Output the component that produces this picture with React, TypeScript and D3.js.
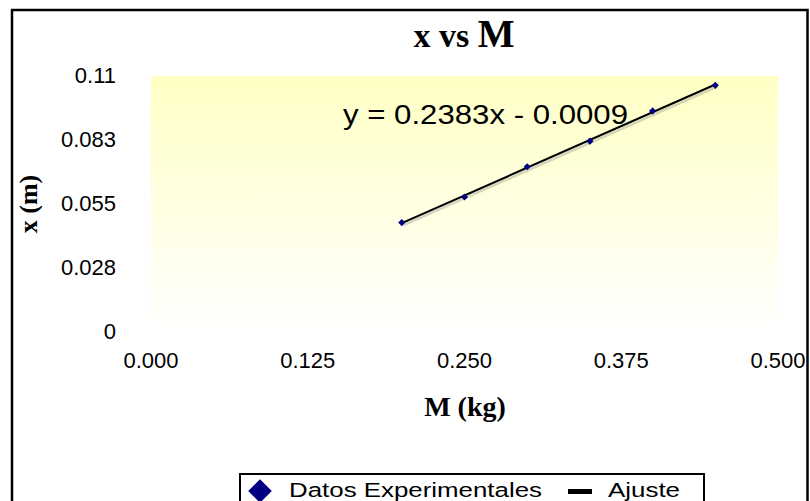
import React, { useEffect, useRef } from "react";
import * as d3 from "d3";

// datos medidos
const masses = [0.2, 0.25, 0.3, 0.35, 0.4, 0.45];
const stretch = [0.047, 0.058, 0.071, 0.082, 0.095, 0.106];

const xTicks = [0, 0.125, 0.25, 0.375, 0.5];
const xTickLabels = ["0.000", "0.125", "0.250", "0.375", "0.500"];
const yTicks = [0, 0.0275, 0.055, 0.0825, 0.11];
const yTickLabels = ["0", "0.028", "0.055", "0.083", "0.11"];

const slope = 0.2383;
const intercept = -0.0009;

const legendLabels = ["Datos Experimentales", "Ajuste"];

const sans = "'Liberation Sans', Arial, sans-serif";
const serif = "'Liberation Serif', 'Times New Roman', serif";

export default function App() {
	const ref = useRef<SVGSVGElement>(null);

	useEffect(() => {
		const svg = d3.select(ref.current);
		svg.selectAll("*").remove();

		const width = 810,
			height = 501;
		const plot = { left: 151, right: 778, top: 76, bottom: 332 };

		const x = d3.scaleLinear().domain([0, 0.5]).range([plot.left, plot.right]);
		const y = d3.scaleLinear().domain([0, 0.11]).range([plot.bottom, plot.top]);

		const defs = svg.append("defs");
		const grad = defs
			.append("linearGradient")
			.attr("id", "bg")
			.attr("x1", 0)
			.attr("y1", 0)
			.attr("x2", 0)
			.attr("y2", 1);
		grad.append("stop").attr("offset", "0%").attr("stop-color", "#FFFFC4");
		grad.append("stop").attr("offset", "100%").attr("stop-color", "#FFFFFF");

		svg.append("rect").attr("width", width).attr("height", height).attr("fill", "#fff");

		// marco exterior
		svg.append("rect")
			.attr("x", 12)
			.attr("y", 10)
			.attr("width", 795.5)
			.attr("height", 600)
			.attr("fill", "none")
			.attr("stroke", "#000")
			.attr("stroke-width", 2.5);

		// area de trazado
		svg.append("rect")
			.attr("x", plot.left)
			.attr("y", plot.top)
			.attr("width", plot.right - plot.left)
			.attr("height", plot.bottom - plot.top)
			.attr("fill", "url(#bg)");

		// titulo
		const title = svg.append("text")
			.attr("x", 464)
			.attr("y", 47)
			.attr("text-anchor", "middle")
			.style("font-family", serif)
			.style("font-weight", "bold")
			.style("font-size", "34px");
		title.append("tspan").text("x vs ");
		title.append("tspan").style("font-size", "39px").text("M");

		// etiquetas de ejes
		svg.append("g")
			.selectAll("text")
			.data(xTicks)
			.enter()
			.append("text")
			.attr("x", (d) => x(d))
			.attr("y", y(0) + 36)
			.attr("text-anchor", "middle")
			.style("font-family", sans)
			.style("font-size", "22px")
			.text((d, i) => xTickLabels[i]);

		svg.append("g")
			.selectAll("text")
			.data(yTicks)
			.enter()
			.append("text")
			.attr("x", 116)
			.attr("y", (d) => y(d) + 7)
			.attr("text-anchor", "end")
			.style("font-family", sans)
			.style("font-size", "22px")
			.text((d, i) => yTickLabels[i]);

		svg.append("text")
			.attr("x", 465)
			.attr("y", 416)
			.attr("text-anchor", "middle")
			.style("font-family", serif)
			.style("font-weight", "bold")
			.style("font-size", "28px")
			.text("M (kg)");

		svg.append("text")
			.attr("transform", "translate(37,204) rotate(-90)")
			.attr("text-anchor", "middle")
			.style("font-family", serif)
			.style("font-weight", "bold")
			.style("font-size", "26px")
			.text("x (m)");

		// linea de ajuste
		const fit = masses.map((m) => [m, slope * m + intercept] as [number, number]);
		const line = d3
			.line<[number, number]>()
			.x((d) => x(d[0]))
			.y((d) => y(d[1]));
		const fitEnds = [fit[0], fit[fit.length - 1]];

		svg.append("path")
			.attr("d", line(fitEnds))
			.attr("fill", "none")
			.attr("stroke", "#888")
			.attr("stroke-opacity", 0.35)
			.attr("stroke-width", 2.5)
			.attr("transform", "translate(2,2)");

		svg.append("path")
			.attr("d", line(fitEnds))
			.attr("fill", "none")
			.attr("stroke", "#000")
			.attr("stroke-width", 2);

		// puntos (rombos)
		const marker = d3.symbol().type(d3.symbolSquare).size(26);
		svg.append("g")
			.selectAll("path")
			.data(masses)
			.enter()
			.append("path")
			.attr("d", marker)
			.attr("transform", (d, i) => `translate(${x(d)},${y(stretch[i])}) rotate(45)`)
			.attr("fill", "#000080");

		// ecuacion
		svg.append("text")
			.attr("x", 343)
			.attr("y", 124)
			.attr("textLength", 285)
			.attr("lengthAdjust", "spacingAndGlyphs")
			.style("font-family", sans)
			.style("font-size", "28px")
			.text(`y = ${slope}x - ${Math.abs(intercept).toFixed(4)}`);

		// leyenda
		const lg = svg.append("g");
		lg.append("rect")
			.attr("x", 240)
			.attr("y", 474)
			.attr("width", 464)
			.attr("height", 60)
			.attr("fill", "#fff")
			.attr("stroke", "#000")
			.attr("stroke-width", 2);
		lg.append("path")
			.attr("d", d3.symbol().type(d3.symbolSquare).size(280)())
			.attr("transform", "translate(260,491) rotate(45)")
			.attr("fill", "#000080");
		lg.append("text")
			.attr("x", 289)
			.attr("y", 497)
			.attr("textLength", 253)
			.attr("lengthAdjust", "spacingAndGlyphs")
			.style("font-family", sans)
			.style("font-size", "20.5px")
			.text(legendLabels[0]);
		lg.append("line")
			.attr("x1", 568)
			.attr("x2", 592)
			.attr("y1", 491.5)
			.attr("y2", 491.5)
			.attr("stroke", "#000")
			.attr("stroke-width", 5);
		lg.append("text")
			.attr("x", 608)
			.attr("y", 497)
			.attr("textLength", 72)
			.attr("lengthAdjust", "spacingAndGlyphs")
			.style("font-family", sans)
			.style("font-size", "20.5px")
			.text(legendLabels[1]);
	}, []);

	return (
		<svg
			ref={ref}
			width={810}
			height={501}
			style={{ position: "absolute", left: 0, top: 0, display: "block" }}
		/>
	);
}
